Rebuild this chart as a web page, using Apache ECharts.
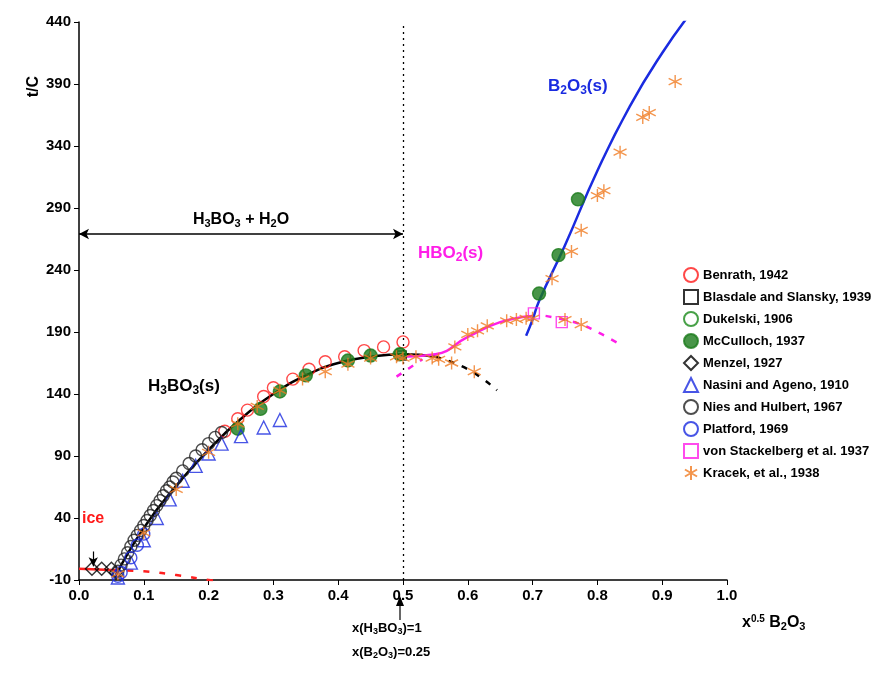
<!DOCTYPE html>
<html>
<head>
<meta charset="utf-8">
<script src="https://cdn.jsdelivr.net/npm/echarts@6/dist/echarts.min.js"></script>
<style>html,body{margin:0;background:#fff}#chart{width:891px;height:680px}</style>
</head>
<body>
<div id="chart"></div>
<script>
const benrath = [[0.225,110],[0.245,120],[0.26,127],[0.285,138],[0.3,145],[0.33,152],[0.355,160],[0.38,166],[0.41,170],[0.44,175],[0.47,178],[0.5,182]]
const blasdale = [[0.498,171]]
const dukelski = [[0.496,172]]
const mcculloch = [[0.245,112],[0.28,128],[0.31,142],[0.35,155],[0.415,167],[0.45,171],[0.495,172],[0.71,221],[0.74,252],[0.77,297]]
const menzel = [[0.02,-1],[0.035,-1],[0.05,-1],[0.057,-4]]
const nasini = [[0.06,-8],[0.08,4],[0.1,22],[0.12,40],[0.14,55],[0.16,70],[0.18,82],[0.2,92],[0.22,100],[0.25,106],[0.285,113],[0.31,119]]
const nies = [[0.06,-3],[0.065,2],[0.07,7],[0.075,12],[0.08,17],[0.085,22],[0.09,26],[0.095,30],[0.1,34],[0.105,38],[0.11,42],[0.115,46],[0.12,50],[0.125,54],[0.13,58],[0.135,62],[0.14,65],[0.145,69],[0.15,72],[0.16,78],[0.17,84],[0.18,90],[0.19,95],[0.2,100],[0.21,105],[0.22,109]]
const platford = [[0.06,-7],[0.065,-4],[0.08,8],[0.09,18],[0.1,27]]
const stackelberg = [[0.702,205],[0.745,198]]
const kracek = [[0.06,-5],[0.1,28],[0.15,63],[0.2,93],[0.245,116],[0.275,130],[0.31,143],[0.345,152],[0.38,158],[0.415,164],[0.45,169],[0.49,170],[0.5,169],[0.52,170],[0.545,169],[0.555,168],[0.575,165],[0.61,158],[0.58,178],[0.6,188],[0.615,191],[0.63,195],[0.66,199],[0.675,200],[0.69,201],[0.7,201],[0.73,233],[0.76,255],[0.775,272],[0.8,300],[0.81,304],[0.835,335],[0.87,363],[0.88,367],[0.92,392],[0.75,200],[0.775,196]]

const h3bo3Line = [[0.055,-8],[0.1,32],[0.15,66],[0.2,95],[0.25,120],[0.3,140],[0.35,155],[0.4,165],[0.45,170],[0.5,172],[0.55,170]]
const h3bo3Dash = [[0.55,170],[0.6,160],[0.645,143]]
const hbo2Line = [[0.5,170],[0.55,172],[0.6,186],[0.65,198],[0.7,203]]
const hbo2DashLo = [[0.49,154],[0.53,168]]
const hbo2DashHi = [[0.72,203],[0.77,197],[0.8,190],[0.835,180]]
const b2o3Line = [[0.69,187],[0.7,200],[0.71,215],[0.75,260],[0.8,320],[0.85,372],[0.9,415],[0.945,448]]
const iceLine = [[0,-1],[0.05,-2]]
const iceDash = [[0.05,-2],[0.1,-3],[0.15,-6],[0.2,-10],[0.215,-11]]

const star = 'path://M0,-5L0,5M-4.33,-2.5L4.33,2.5M-4.33,2.5L4.33,-2.5'
const font = 'Liberation Sans, Arial, sans-serif'

function pts(name, data, symbol, color, size, filled) {
  return {
    name, type: 'scatter', data, symbol, symbolSize: size || 12,
    itemStyle: { color: filled ? color : 'rgba(255,255,255,0)', borderColor: color, borderWidth: 1.4 },
    z: 5
  }
}
function line(data, color, type, width) {
  return {
    type: 'line', data, symbol: 'none', smooth: true, silent: true,
    lineStyle: { color, type: type || 'solid', width: width || 2.5 }, z: 3
  }
}

const chart = echarts.init(document.getElementById('chart'))
chart.setOption({
  animation: false,
  textStyle: { fontFamily: font },
  grid: { left: 79, right: 164, top: 22, bottom: 100 },
  xAxis: {
    type: 'value', min: 0, max: 1, interval: 0.1,
    axisLine: { onZero: false, lineStyle: { color: '#000', width: 1.5 } },
    axisTick: { lineStyle: { color: '#000' } },
    splitLine: { show: false },
    axisLabel: { color: '#000', fontWeight: 'bold', fontSize: 15, formatter: v => v.toFixed(1) }
  },
  yAxis: {
    type: 'value', min: -10, max: 440, interval: 50,
    axisLine: { show: true, onZero: false, lineStyle: { color: '#000', width: 1.5 } },
    axisTick: { show: true, lineStyle: { color: '#000' } },
    splitLine: { show: false },
    axisLabel: { color: '#000', fontWeight: 'bold', fontSize: 15 }
  },
  legend: {
    orient: 'vertical', left: 678, top: 262, itemGap: 6, itemWidth: 14, itemHeight: 14,
    textStyle: { fontWeight: 'bold', fontSize: 13, color: '#000' },
    data: ['Benrath, 1942','Blasdale and Slansky, 1939','Dukelski, 1906','McCulloch, 1937','Menzel, 1927','Nasini and Ageno, 1910','Nies and Hulbert, 1967','Platford, 1969','von Stackelberg et al. 1937','Kracek, et al., 1938']
  },
  series: [
    line(h3bo3Line, '#000'), line(h3bo3Dash, '#000', [6, 8]),
    line(hbo2Line, '#ff1ee8'), line(hbo2DashLo, '#ff1ee8', [6, 8]), line(hbo2DashHi, '#ff1ee8', [6, 8]),
    line(b2o3Line, '#1a2be0'), line(iceLine, '#ff2020'), line(iceDash, '#ff2020', [6, 10]),
    {
      type: 'line', data: [], silent: true,
      markLine: {
        silent: true, symbol: 'none', label: { show: false },
        lineStyle: { color: '#000', type: [2, 4], width: 1.3 },
        data: [{ xAxis: 0.5 }]
      }
    },
    {
      type: 'line', data: [], silent: true,
      markLine: {
        silent: true, symbol: ['arrow', 'arrow'], symbolSize: [8, 10],
        lineStyle: { color: '#000', type: 'solid', width: 1.5 },
        label: {
          show: true, position: 'middle', formatter: 'H{s|3}BO{s|3} + H{s|2}O', backgroundColor: '#fff', padding: [0, 8],
          fontWeight: 'bold', fontSize: 16, color: '#000',
          rich: { s: { fontSize: 11, fontWeight: 'bold', verticalAlign: 'bottom', padding: [8, 0, 0, 0] } }
        },
        data: [[{ coord: [0, 269] }, { coord: [0.5, 269] }]]
      }
    },
    {
      type: 'line', data: [], silent: true,
      markLine: {
        silent: true, symbol: ['none', 'arrow'], symbolSize: [7, 9], label: { show: false },
        lineStyle: { color: '#000', type: 'solid', width: 1.2 },
        data: [[{ coord: [0.022, 13] }, { coord: [0.022, 1] }]]
      }
    },
    pts('Benrath, 1942', benrath, 'circle', '#ff1a1a', 12),
    pts('Blasdale and Slansky, 1939', blasdale, 'rect', '#000', 9),
    pts('Dukelski, 1906', dukelski, 'circle', '#1a8a1a', 12),
    pts('McCulloch, 1937', mcculloch, 'circle', '#1a7a1a', 13, true),
    pts('Menzel, 1927', menzel, 'diamond', '#000', 13),
    pts('Nasini and Ageno, 1910', nasini, 'triangle', '#1a2be0', 13),
    pts('Nies and Hulbert, 1967', nies, 'circle', '#222', 12),
    pts('Platford, 1969', platford, 'circle', '#1a2be0', 12),
    pts('von Stackelberg et al. 1937', stackelberg, 'rect', '#ff1ee8', 11),
    pts('Kracek, et al., 1938', kracek, star, '#f07a20', 13)
  ],
  graphic: [
    { type: 'text', left: 26, top: 76, rotation: Math.PI / 2, style: { text: 't/C', font: 'bold 16px ' + font, fill: '#000' } },
    { type: 'text', left: 82, top: 511, style: { text: 'ice', font: 'bold 16px ' + font, fill: '#ff1a1a' } },
    { type: 'text', left: 148, top: 378, style: { rich: { b: { font: 'bold 17px ' + font, fill: '#000' }, s: { font: 'bold 12px ' + font, fill: '#000', padding: [8, 0, 0, 0] } }, text: '{b|H}{s|3}{b|BO}{s|3}{b|(s)}' } },
    { type: 'text', left: 418, top: 245, style: { rich: { b: { font: 'bold 17px ' + font, fill: '#ff1ee8' }, s: { font: 'bold 12px ' + font, fill: '#ff1ee8', padding: [8, 0, 0, 0] } }, text: '{b|HBO}{s|2}{b|(s)}' } },
    { type: 'text', left: 548, top: 78, style: { rich: { b: { font: 'bold 17px ' + font, fill: '#1a2be0' }, s: { font: 'bold 12px ' + font, fill: '#1a2be0', padding: [8, 0, 0, 0] } }, text: '{b|B}{s|2}{b|O}{s|3}{b|(s)}' } },
    { type: 'line', shape: { x1: 400, y1: 620, x2: 400, y2: 598 }, style: { stroke: '#000', lineWidth: 1.2 } },
    { type: 'polygon', shape: { points: [[396, 606], [404, 606], [400, 596]] }, style: { fill: '#000' } },
    { type: 'text', left: 352, top: 622, style: { rich: { b: { font: 'bold 13px ' + font, fill: '#000' }, s: { font: 'bold 9px ' + font, fill: '#000', padding: [6, 0, 0, 0] } }, text: '{b|x(H}{s|3}{b|BO}{s|3}{b|)=1}' } },
    { type: 'text', left: 352, top: 646, style: { rich: { b: { font: 'bold 13px ' + font, fill: '#000' }, s: { font: 'bold 9px ' + font, fill: '#000', padding: [6, 0, 0, 0] } }, text: '{b|x(B}{s|2}{b|O}{s|3}{b|)=0.25}' } },
    { type: 'text', left: 742, top: 614, style: { rich: { b: { font: 'bold 16px ' + font, fill: '#000' }, p: { font: 'bold 10px ' + font, fill: '#000', padding: [0, 0, 8, 0] }, s: { font: 'bold 11px ' + font, fill: '#000', padding: [8, 0, 0, 0] } }, text: '{b|x}{p|0.5}{b| B}{s|2}{b|O}{s|3}' } }
  ]
})
</script>
</body>
</html>
